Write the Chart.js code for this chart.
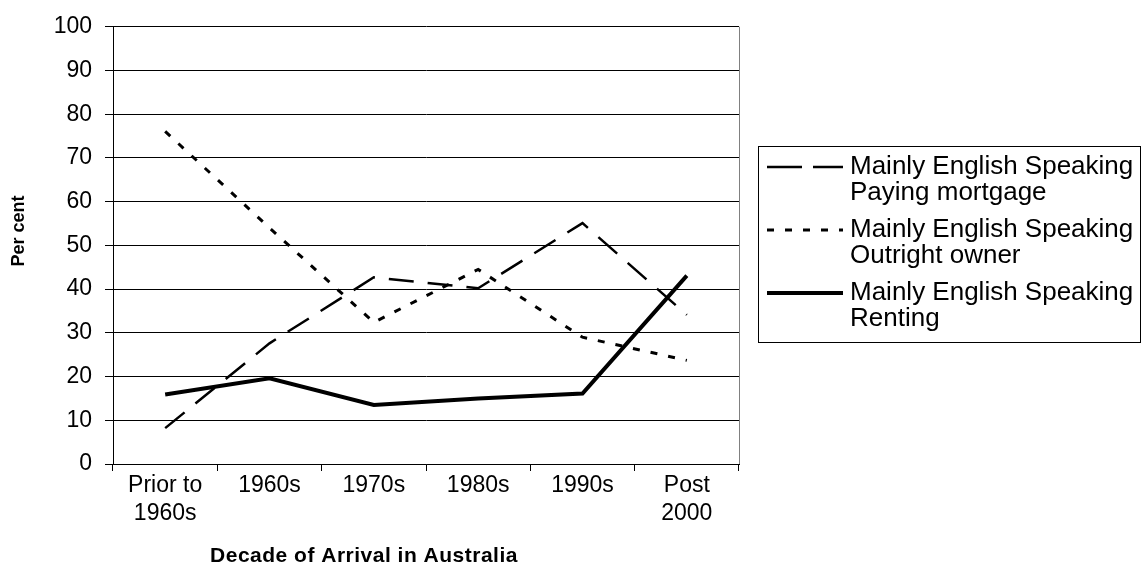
<!DOCTYPE html>
<html>
<head>
<meta charset="utf-8">
<script src="https://cdn.jsdelivr.net/npm/chart.js@4/dist/chart.umd.min.js"></script>
<style>
  html, body { margin: 0; padding: 0; background: #fff; }
  #wrap { width: 1144px; height: 579px; }
</style>
</head>
<body>
<div id="wrap"><canvas id="chart" width="1144" height="579"></canvas></div>
<script>
const categories = [['Prior to', '1960s'], '1960s', '1970s', '1980s', '1990s', ['Post', '2000']];
const payingMortgage = [8.2, 27.6, 42.7, 40.2, 55.1, 34.1];
const outrightOwner = [76.1, 54.0, 32.4, 44.5, 29.0, 23.7];
const renting = [15.9, 19.6, 13.5, 15.0, 16.1, 43.1];
const seriesNames = [
    ['Mainly English Speaking', 'Paying mortgage'],
    ['Mainly English Speaking', 'Outright owner'],
    ['Mainly English Speaking', 'Renting'],
];
const yTitle = 'Per cent';
const xTitle = 'Decade of Arrival in Australia';

const FONT = '"Liberation Sans", Arial, sans-serif';

// legend box + axis titles + right plot border, drawn by hand
const extras = {
    id: 'extras',
    afterDraw(chart) {
        const ctx = chart.ctx;
        const area = chart.chartArea;
        ctx.save();

        // right edge of plot
        ctx.strokeStyle = '#808080';
        ctx.lineWidth = 1;
        ctx.beginPath();
        ctx.moveTo(area.right + 0.5, area.top);
        ctx.lineTo(area.right + 0.5, area.bottom);
        ctx.stroke();

        // axis titles
        ctx.fillStyle = '#000';
        ctx.font = 'bold 21px ' + FONT;
        ctx.textAlign = 'center';
        ctx.textBaseline = 'middle';
        ctx.letterSpacing = '0.5px';
        ctx.fillText(xTitle, 364, 556);
        ctx.letterSpacing = '0px';
        ctx.save();
        ctx.translate(19, 231);
        ctx.rotate(-Math.PI / 2);
        ctx.font = 'bold 18px ' + FONT;
        ctx.fillText(yTitle, 0, 0);
        ctx.restore();

        // legend
        const bx = 758, by = 146, bw = 382, bh = 196;
        ctx.strokeStyle = '#000';
        ctx.lineWidth = 1;
        ctx.strokeRect(bx + 0.5, by + 0.5, bw, bh);
        ctx.font = '26px ' + FONT;
        ctx.textAlign = 'left';
        chart.data.datasets.forEach((ds, i) => {
            const y = 167 + i * 63;
            ctx.strokeStyle = ds.borderColor;
            ctx.lineWidth = ds.borderWidth;
            ctx.setLineDash(ds.legendDash || []);
            ctx.beginPath();
            ctx.moveTo(767, y);
            ctx.lineTo(843, y);
            ctx.stroke();
            ctx.setLineDash([]);
            ctx.fillStyle = '#000';
            seriesNames[i].forEach((t, j) => ctx.fillText(t, 850, y + j * 26));
        });
        ctx.restore();
    }
};

new Chart(document.getElementById('chart'), {
    type: 'line',
    data: {
        labels: categories,
        datasets: [
            {
                label: seriesNames[0].join(' '),
                data: payingMortgage,
                borderColor: '#000',
                borderWidth: 2.5,
                borderDash: [25, 14],
                legendDash: [35, 11],
                pointRadius: 0,
                tension: 0,
            },
            {
                label: seriesNames[1].join(' '),
                data: outrightOwner,
                borderColor: '#000',
                borderWidth: 3,
                borderDash: [7, 11],
                legendDash: [7, 11],
                pointRadius: 0,
                tension: 0,
            },
            {
                label: seriesNames[2].join(' '),
                data: renting,
                borderColor: '#000',
                borderWidth: 4,
                pointRadius: 0,
                tension: 0,
            },
        ]
    },
    options: {
        responsive: false,
        animation: false,
        layout: {
            padding: {top: 23, right: 405, bottom: 0, left: 0}
        },
        plugins: {
            legend: {display: false},
            tooltip: {enabled: false},
        },
        scales: {
            x: {
                offset: true,
                grid: {
                    offset: true,
                    drawOnChartArea: false,
                    drawTicks: true,
                    tickLength: 7,
                    color: '#000',
                },
                border: {color: '#000', width: 1},
                ticks: {
                    color: '#000',
                    font: {family: FONT, size: 23, lineHeight: 1.2},
                    padding: 1,
                    maxRotation: 0,
                    autoSkip: false,
                },
                afterFit: s => { s.height = 115; },
            },
            y: {
                min: 0,
                max: 100,
                grid: {
                    color: '#000',
                    drawTicks: true,
                    tickLength: 8,
                },
                border: {color: '#000', width: 1},
                ticks: {
                    stepSize: 10,
                    color: '#000',
                    font: {family: FONT, size: 23},
                    padding: 13,
                },
                afterFit: s => { s.width = 113; },
            }
        }
    },
    plugins: [extras]
});
</script>
</body>
</html>
